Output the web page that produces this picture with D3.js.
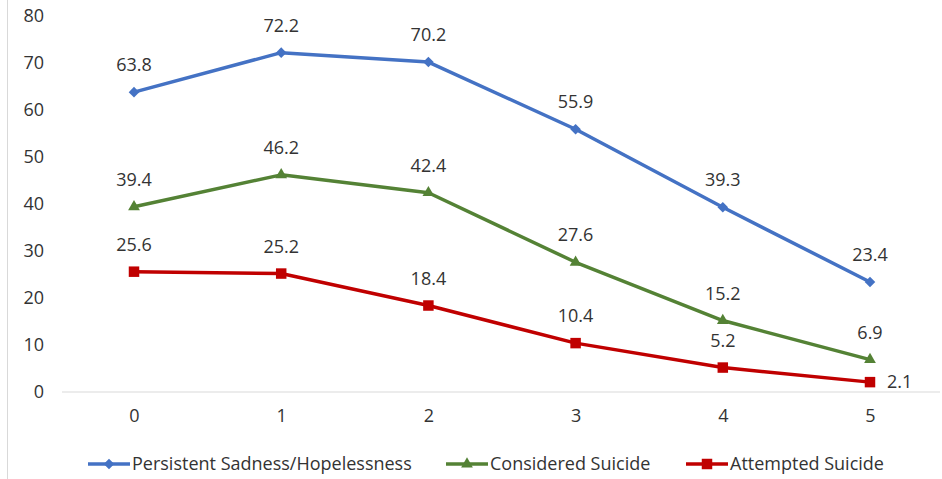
<!DOCTYPE html>
<html>
<head>
<meta charset="utf-8">
<script src="https://cdn.jsdelivr.net/npm/d3@7"></script>
<style>
  body { margin: 0; background: #fff; }
  text { font-family: "Open Sans", sans-serif; fill: #333; }
</style>
</head>
<body>
<svg id="chart" width="942" height="479"></svg>
<script>
const categories = [0, 1, 2, 3, 4, 5];
const sadness = [63.8, 72.2, 70.2, 55.9, 39.3, 23.4];
const considered = [39.4, 46.2, 42.4, 27.6, 15.2, 6.9];
const attempted = [25.6, 25.2, 18.4, 10.4, 5.2, 2.1];
const yTicks = [0, 10, 20, 30, 40, 50, 60, 70, 80];

// diamond = rotated square
const series = [
  { name: 'Persistent Sadness/Hopelessness', values: sadness, color: '#4472C4', symbol: d3.symbolSquare, size: 56, rot: 45, legendX: 88 },
  { name: 'Considered Suicide', values: considered, color: '#548235', symbol: d3.symbolTriangle, size: 60, rot: 0, legendX: 446 },
  { name: 'Attempted Suicide', values: attempted, color: '#C00000', symbol: d3.symbolSquare, size: 110, rot: 0, legendX: 686 }
];

const svg = d3.select('#chart');

const x = d3.scalePoint()
    .domain(categories)
    .range([134, 870]);

const y = d3.scaleLinear()
    .domain([0, 80])
    .range([392, 16]);

// left frame edge
svg.append('line')
    .attr('x1', 7.5).attr('x2', 7.5)
    .attr('y1', 0).attr('y2', 479)
    .attr('stroke', '#d9d9d9');

// base line
svg.append('line')
    .attr('x1', 62).attr('x2', 940)
    .attr('y1', y(0)).attr('y2', y(0))
    .attr('stroke', '#d9d9d9')
    .attr('stroke-width', 1.2);

// y labels
const yAxis = d3.axisLeft(y).tickValues(yTicks).tickSize(0).tickPadding(0);
const gy = svg.append('g').attr('transform', 'translate(44,0)').call(yAxis);
gy.select('.domain').remove();
gy.selectAll('text').style('font-size', '18px').attr('fill', '#333').attr('font-family', '"Open Sans", sans-serif');

// x labels
const xAxis = d3.axisBottom(x).tickSize(0).tickPadding(0);
const gx = svg.append('g').attr('transform', 'translate(0,409)').call(xAxis);
gx.select('.domain').remove();
gx.selectAll('text').style('font-size', '18px').attr('fill', '#333').attr('font-family', '"Open Sans", sans-serif');

const line = d3.line()
    .x((d, i) => x(categories[i]))
    .y(d => y(d));

series.forEach(s => {
  svg.append('path')
      .datum(s.values)
      .attr('d', line)
      .attr('fill', 'none')
      .attr('stroke', s.color)
      .attr('stroke-width', 3.5)
      .attr('stroke-linejoin', 'round');

  svg.selectAll(null)
      .data(s.values)
      .enter()
      .append('path')
      .attr('d', d3.symbol().type(s.symbol).size(s.size))
      .attr('transform', (d, i) => `translate(${x(categories[i])},${y(d)}) rotate(${s.rot})`)
      .attr('fill', s.color);

  const side = (i) => s.name === 'Attempted Suicide' && i === 5;
  svg.selectAll(null)
      .data(s.values)
      .enter()
      .append('text')
      .attr('x', (d, i) => side(i) ? x(categories[i]) + 17 : x(categories[i]))
      .attr('y', (d, i) => side(i) ? y(d) + 6 : y(d) - 21)
      .attr('text-anchor', (d, i) => side(i) ? 'start' : 'middle')
      .style('font-size', '18px')
      .text(d => d3.format('.1f')(d));
});

// legend
const legend = svg.append('g').attr('transform', 'translate(0,464)');
series.forEach(s => {
  const g = legend.append('g').attr('transform', `translate(${s.legendX},0)`);
  g.append('line')
      .attr('x1', 0).attr('x2', 42)
      .attr('stroke', s.color)
      .attr('stroke-width', 3.5);
  g.append('path')
      .attr('d', d3.symbol().type(s.symbol).size(s.size))
      .attr('transform', `translate(21,0) rotate(${s.rot})`)
      .attr('fill', s.color);
  g.append('text')
      .attr('x', 44)
      .attr('y', 6)
      .style('font-size', '18px')
      .text(s.name);
});
</script>
</body>
</html>
